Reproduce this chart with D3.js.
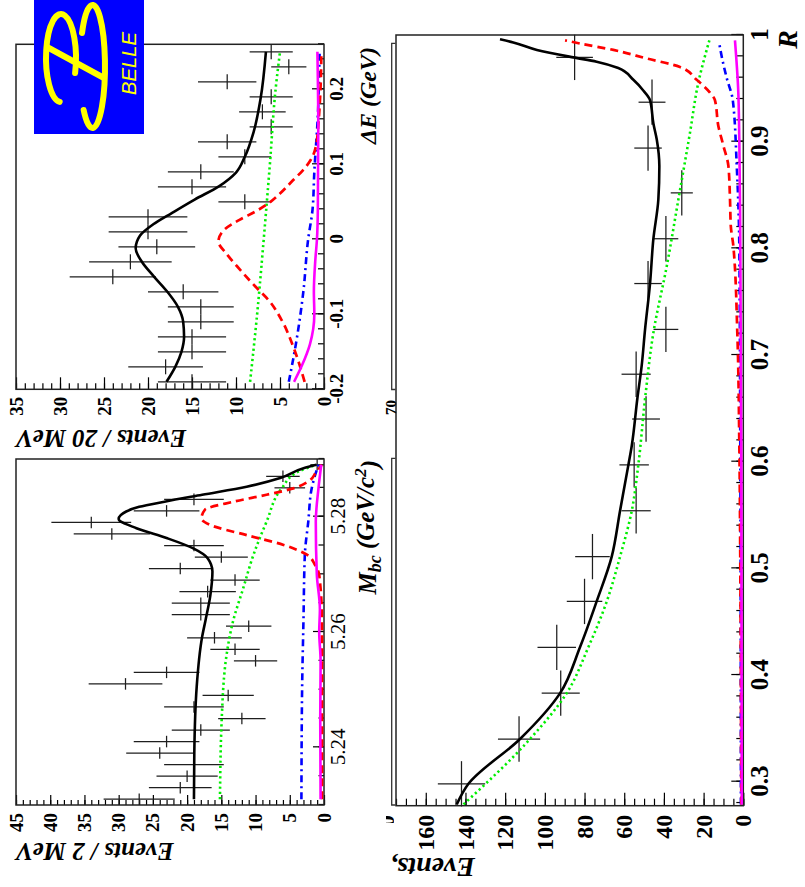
<!DOCTYPE html>
<html>
<head>
<meta charset="utf-8">
<script src="https://cdn.jsdelivr.net/npm/d3@7/dist/d3.min.js"></script>
<style>
  html, body { margin: 0; padding: 0; background: #fff; }
  svg { display: block; }
</style>
</head>
<body>
<svg id="fig" width="805" height="887"></svg>
<script>
// ---------- ΔE projection (20 MeV bins) ----------
const deCenters = [-0.19,-0.17,-0.15,-0.13,-0.11,-0.09,-0.07,-0.05,-0.03,-0.01,0.01,0.03,0.05,0.07,0.09,0.11,0.13,0.15,0.17,0.19,0.21,0.23,0.25];
const deCounts  = [15,18,15,15,14,14,16,24,22,19,20,20,9,15,14,9,11,6,7,6,11,4,6];
const deTotal = [[-0.19,17.9],[-0.17,16.9],[-0.15,16.2],[-0.13,15.9],[-0.11,16.0],[-0.09,16.6],[-0.07,17.8],[-0.05,19.3],[-0.03,20.7],[-0.012,21.4],[0.005,20.9],[0.02,19.4],[0.035,17.3],[0.053,14.7],[0.071,11.9],[0.089,10.0],[0.11,9.0],[0.143,8.0],[0.188,7.2],[0.25,6.6]];
const deSignal = [[-0.19,2.2],[-0.143,3.5],[-0.108,4.8],[-0.081,6.3],[-0.063,7.8],[-0.041,9.5],[-0.019,11.1],[-0.003,12.0],[0.012,11.4],[0.026,9.6],[0.037,7.8],[0.048,6.3],[0.061,5.0],[0.079,3.5],[0.092,2.4],[0.106,1.5],[0.125,0.9],[0.16,0.6],[0.2,0.4],[0.25,0.3]];
const deContinuum = [[-0.19,8.4],[-0.1,7.6],[0,6.85],[0.1,6.15],[0.2,5.5],[0.25,5.0]];
const deBBbar = [[-0.19,4.0],[-0.14,3.2],[-0.07,2.35],[0,1.8],[0.04,1.3],[0.09,1.1],[0.165,0.7],[0.25,0.5]];
const deRare = [[-0.19,3.4],[-0.168,2.5],[-0.14,1.6],[-0.1,1.1],[-0.07,1.15],[-0.03,1.0],[0,0.8],[0.04,0.7],[0.15,0.65],[0.25,0.75]];
const deTicks = [-0.2,-0.1,0,0.1,0.2];
const deCountTicks = [0,5,10,15,20,25,30,35];

// ---------- Mbc projection (2 MeV/c^2 bins) ----------
const mbcCenters = [5.231,5.233,5.235,5.237,5.239,5.241,5.243,5.245,5.247,5.249,5.251,5.253,5.255,5.257,5.259,5.261,5.263,5.265,5.267,5.269,5.271,5.273,5.275,5.277,5.279,5.281,5.283,5.285,5.287,5.289];
const mbcCounts  = [27,21,20,19,24,23,18,12,19,14,29,23,10,13,16,11,18,18,17,13,21,15,19,31,34,23,19,5,6,1];
const mbcTotal = [[5.231,19.0],[5.239,18.95],[5.2505,18.6],[5.2592,17.8],[5.2621,17.3],[5.2664,16.6],[5.2705,16.3],[5.2728,17.0],[5.2745,19.1],[5.2763,23.0],[5.278,27.4],[5.2796,30.0],[5.2809,28.9],[5.2817,27.0],[5.2826,23.3],[5.2838,17.8],[5.2852,11.3],[5.2867,6.4],[5.2884,3.0],[5.289,1.1]];
const mbcSignal = [[5.231,0.3],[5.262,0.3],[5.2699,0.7],[5.2716,1.3],[5.2734,2.5],[5.2751,5.9],[5.2768,11.3],[5.2786,16.7],[5.2797,17.9],[5.2812,17.4],[5.2826,13.2],[5.2838,8.4],[5.2849,4.5],[5.2861,2.3],[5.2878,1.1],[5.289,0.3]];
const mbcContinuum = [[5.231,15.2],[5.2447,14.95],[5.2563,14.2],[5.2618,13.3],[5.2676,11.8],[5.2734,10.3],[5.2791,8.4],[5.2849,6.2],[5.2878,3.75],[5.289,1.1]];
const mbcBBbar = [[5.231,3.3],[5.25,3.2],[5.262,3.0],[5.2734,2.8],[5.2791,2.3],[5.2849,1.8],[5.2872,1.3],[5.289,0.8]];
const mbcRare = [[5.231,0.5],[5.245,0.55],[5.255,0.5],[5.26,0.7],[5.264,0.6],[5.27,1.05],[5.2791,1.2],[5.285,0.8],[5.289,0.4]];
const mbcTicks = [5.24,5.26,5.28];
const mbcCountTicks = [0,5,10,15,20,25,30,35,40,45];

// ---------- R projection ----------
const rCenters = [0.298,0.340,0.383,0.426,0.469,0.511,0.554,0.597,0.640,0.682,0.724,0.767,0.809,0.852,0.894,0.937,0.979];
const rCounts  = [142,113,92,94,80,76,54,55,49,54,39,48,39,31,48,46,85];
const rTotal = [[0.2787,144.4],[0.298,138.5],[0.34,112.5],[0.383,92.3],[0.426,82.3],[0.469,73.9],[0.511,66.3],[0.554,62.1],[0.597,57.9],[0.615,56.2],[0.659,53.4],[0.69,51.2],[0.724,49.5],[0.767,47.0],[0.809,45.3],[0.846,42.8],[0.877,42.3],[0.902,43.6],[0.917,45.3],[0.939,47.0],[0.948,50.4],[0.958,55.4],[0.969,63.0],[0.975,73.9],[0.979,85.6],[0.986,104],[0.993,115.9],[0.996,122.6]];
const rSignal = [[0.2787,1.0],[0.5,1.5],[0.615,2.0],[0.72,3.0],[0.802,5.0],[0.821,6.3],[0.846,6.7],[0.877,7.5],[0.896,10],[0.915,12.6],[0.939,14.3],[0.946,16.8],[0.958,23.5],[0.97,31.9],[0.978,48.7],[0.986,65.5],[0.992,82.3],[0.995,89.8]];
const rContinuum = [[0.2787,141],[0.34,107.5],[0.383,89],[0.426,78.1],[0.469,68.8],[0.511,62.1],[0.554,56.2],[0.597,52.9],[0.659,49.5],[0.721,45.3],[0.783,38.6],[0.846,32.7],[0.908,26.9],[0.955,22.7],[0.995,17.1]];
const rBBbar = [[0.2787,1.2],[0.6,1.5],[0.8,2.0],[0.877,3.3],[0.939,5.3],[0.96,8.4],[0.98,10.9],[0.992,12.1]];
const rRare = [[0.2787,0.8],[0.6,1.0],[0.8,1.5],[0.9,2.0],[0.95,2.6],[0.995,4.2]];
const rTicks = [0.3,0.4,0.5,0.6,0.7,0.8,0.9,1];
const rCountTicks = [0,20,40,60,80,100,120,140,160];

// ---------- drawing ----------
const SERIF = "'Liberation Serif','Times New Roman',Times,serif";
const curveStyles = [
  { key: "continuum", stroke: "#00ee00", width: 2.6, dash: "2.2,3" },
  { key: "bbbar",     stroke: "#0000ff", width: 2.6, dash: "7,4,2,4" },
  { key: "signal",    stroke: "#ff0000", width: 2.7, dash: "8,5" },
  { key: "rare",      stroke: "#ff00ff", width: 2.6, dash: null },
  { key: "total",     stroke: "#000000", width: 2.6, dash: null }
];

const svg = d3.select("#fig");
// The figure is laid out in an 887 x 805 landscape frame and turned a quarter turn.
const g = svg.append("g").attr("transform", "translate(0,887) rotate(-90)");

function minorList(a, b, step) {
  const n = Math.round((b - a) / step);
  return d3.range(n + 1).map(i => +(a + i * step).toFixed(6));
}

function drawPanel(p) {
  const P = g.append("g");
  const [xa, xb] = p.x.range();
  const [yb, ya] = p.y.range();

  // x axis (bottom, ticks inward)
  P.append("g").attr("transform", `translate(0,${yb})`)
    .call(d3.axisBottom(p.x).tickValues(p.xMinor).tickSize(-p.xLen[1]).tickFormat(""))
    .call(s => { s.select(".domain").remove(); s.selectAll("line").attr("stroke-width", 1.2); });
  const gx = P.append("g").attr("transform", `translate(0,${yb})`)
    .call(d3.axisBottom(p.x).tickValues(p.xTicks).tickSize(-p.xLen[0]).tickPadding(p.xPad).tickFormat(d => String(d)));
  gx.select(".domain").remove();
  gx.selectAll("line").attr("stroke-width", 1.2);
  gx.selectAll("text").attr("font-family", SERIF).attr("font-size", p.xFont)
    .attr("font-weight", p.xWeight).attr("fill", "#000");

  // y axis (left, ticks inward)
  P.append("g").attr("transform", `translate(${xa},0)`)
    .call(d3.axisLeft(p.y).tickValues(p.yMinor).tickSize(-p.yLen[1]).tickFormat(""))
    .call(s => { s.select(".domain").remove(); s.selectAll("line").attr("stroke-width", 1.2); });
  const gy = P.append("g").attr("transform", `translate(${xa},0)`)
    .call(d3.axisLeft(p.y).tickValues(p.yTicks).tickSize(-p.yLen[0]).tickPadding(p.yPad).tickFormat(d => String(d)));
  gy.select(".domain").remove();
  gy.selectAll("line").attr("stroke-width", 1.2);
  gy.selectAll("text").attr("font-family", SERIF).attr("font-size", p.yFont)
    .attr("font-weight", "bold").attr("fill", "#000");

  // frame
  P.append("rect").attr("x", xa).attr("y", ya).attr("width", xb - xa).attr("height", yb - ya)
    .attr("fill", "none").attr("stroke", "#222").attr("stroke-width", 1.5);

  // data points with Poisson errors and bin widths
  const pts = d3.zip(p.centers, p.counts);
  const dg = P.append("g").attr("stroke", "#1e1e1e").attr("stroke-width", 1.25);
  dg.selectAll("line.err").data(pts).join("line").attr("class", "err")
    .attr("x1", d => p.x(d[0])).attr("x2", d => p.x(d[0]))
    .attr("y1", d => p.y(d[1] - Math.sqrt(d[1]))).attr("y2", d => p.y(d[1] + Math.sqrt(d[1])));
  dg.selectAll("line.bin").data(pts).join("line").attr("class", "bin")
    .attr("x1", d => p.x(d[0] - p.binWidth / 2)).attr("x2", d => p.x(d[0] + p.binWidth / 2))
    .attr("y1", d => p.y(d[1])).attr("y2", d => p.y(d[1]));

  // fit components
  const line = d3.line().x(d => p.x(d[0])).y(d => p.y(d[1])).curve(d3.curveMonotoneX);
  curveStyles.forEach(st => {
    P.append("path").datum(p.curves[st.key]).attr("d", line)
      .attr("fill", "none").attr("stroke", st.stroke).attr("stroke-width", st.width)
      .attr("stroke-dasharray", st.dash).attr("stroke-linejoin", "round");
  });

  // axis titles
  const xt = P.append("text").attr("x", p.xTitle.x).attr("y", p.xTitle.y)
    .attr("text-anchor", "end").attr("font-family", SERIF).attr("font-size", p.xTitle.size)
    .attr("font-weight", "bold").attr("font-style", "italic");
  p.xTitle.parts.forEach(t => {
    const ts = xt.append("tspan").text(t.s);
    if (t.dy) ts.attr("dy", t.dy);
    if (t.size) ts.attr("font-size", t.size);
  });
  P.append("text").attr("transform", `translate(${p.yTitle.x},${p.yTitle.y}) rotate(-90)`)
    .attr("text-anchor", p.yTitle.anchor).attr("font-family", SERIF).attr("font-size", p.yTitle.size)
    .attr("font-weight", "bold").attr("font-style", "italic").text(p.yTitle.text);
}

// R (full width, lower in the frame)
drawPanel({
  x: d3.scaleLinear([0.2775, 1.0], [81.3, 852]),
  y: d3.scaleLinear([0, 175], [743.3, 396]),
  xTicks: rTicks, xMinor: minorList(0.28, 1.0, 0.02), xLen: [12, 7], xPad: 7, xFont: 25, xWeight: "bold",
  yTicks: rCountTicks, yMinor: minorList(0, 175, 5), yLen: [13, 7], yPad: 9, yFont: 24,
  centers: rCenters, counts: rCounts, binWidth: 0.0425,
  curves: { total: rTotal, signal: rSignal, continuum: rContinuum, bbbar: rBBbar, rare: rRare },
  xTitle: { x: 857, y: 797, size: 28, parts: [{ s: "R" }] },
  yTitle: { x: 29, y: 475, size: 28, anchor: "start", text: "Events," }
});

// Mbc
drawPanel({
  x: d3.scaleLinear([5.23, 5.29], [82, 428]),
  y: d3.scaleLinear([0, 45], [324, 16]),
  xTicks: mbcTicks, xMinor: minorList(5.23, 5.29, 0.005), xLen: [11, 5.5], xPad: 6, xFont: 21, xWeight: "normal",
  yTicks: mbcCountTicks, yMinor: minorList(0, 45, 1), yLen: [10, 5], yPad: 8, yFont: 19,
  centers: mbcCenters, counts: mbcCounts, binWidth: 0.002,
  curves: { total: mbcTotal, signal: mbcSignal, continuum: mbcContinuum, bbbar: mbcBBbar, rare: mbcRare },
  xTitle: { x: 427, y: 376, size: 25, parts: [{ s: "M" }, { s: "bc", dy: "0.3em", size: 18 }, { s: " (GeV/c", dy: "-0.3em" }, { s: "2", dy: "-0.45em", size: 17 }, { s: ")", dy: "0.45em" }] },
  yTitle: { x: 44, y: 16, size: 25, anchor: "end", text: "Events / 2 MeV" }
});

// ΔE
drawPanel({
  x: d3.scaleLinear([-0.2, 0.26], [497.7, 842.7]),
  y: d3.scaleLinear([0, 35], [324, 16]),
  xTicks: deTicks, xMinor: minorList(-0.2, 0.26, 0.02), xLen: [12, 6], xPad: 5.5, xFont: 19, xWeight: "bold",
  yTicks: deCountTicks, yMinor: minorList(0, 35, 1), yLen: [12, 6], yPad: 7.5, yFont: 19,
  centers: deCenters, counts: deCounts, binWidth: 0.02,
  curves: { total: deTotal, signal: deSignal, continuum: deContinuum, bbbar: deBBbar, rare: deRare },
  xTitle: { x: 840, y: 376, size: 24, parts: [{ s: "ΔE (GeV)" }] },
  yTitle: { x: 457, y: 16, size: 25, anchor: "end", text: "Events / 20 MeV" }
});

// leftover pad edges and label fragments between the panels
const edge = g.append("g").attr("stroke", "#333").attr("stroke-width", 1.3).attr("fill", "none");
[[497.5, 843.7], [82, 428.7]].forEach(([a, b]) => {
  edge.append("path").attr("d", `M${a},395.5 L${a},391.7 L${b},391.7 L${b},395.5`);
});
g.append("text").attr("x", 479.5).attr("y", 395.5).attr("text-anchor", "middle")
  .attr("font-family", SERIF).attr("font-weight", "bold").attr("font-size", 15).text("70");
g.append("clipPath").attr("id", "fragClip").append("rect").attr("x", 64).attr("y", 386).attr("width", 12).attr("height", 8);
g.append("text").attr("x", 72).attr("y", 393.7).attr("text-anchor", "end").attr("clip-path", "url(#fragClip)")
  .attr("font-family", SERIF).attr("font-weight", "bold").attr("font-size", 24).text("180");

// ---------- Belle logo ----------
const logo = svg.append("g");
logo.append("rect").attr("x", 34).attr("y", 0).attr("width", 110).attr("height", 134).attr("fill", "#0000ff");
function arcPath(cx, cy, rx, ry, a0, a1) {
  const r = Math.PI / 180;
  const p0 = [cx + rx * Math.cos(a0 * r), cy + ry * Math.sin(a0 * r)];
  const p1 = [cx + rx * Math.cos(a1 * r), cy + ry * Math.sin(a1 * r)];
  const large = (a1 - a0) > 180 ? 1 : 0;
  return `M${p0[0]},${p0[1]} A${rx},${ry} 0 ${large} 1 ${p1[0]},${p1[1]}`;
}
const ly = logo.append("g").attr("fill", "none").attr("stroke", "#ffff00").attr("stroke-width", 6).attr("stroke-linecap", "round");
ly.append("path").attr("d", arcPath(61, 58, 15, 44, 95, 380));
ly.append("path").attr("d", arcPath(92.5, 66.5, 12.5, 61.5, 213, 495));
ly.append("path").attr("d", "M47,47 L104,78");
logo.append("text").attr("transform", "translate(136,95) rotate(-90)")
  .attr("font-family", "'Liberation Sans',Arial,sans-serif").attr("font-style", "italic")
  .attr("font-size", 21).attr("fill", "#ffff00").attr("textLength", 63).attr("lengthAdjust", "spacingAndGlyphs")
  .text("BELLE");
</script>
</body>
</html>
